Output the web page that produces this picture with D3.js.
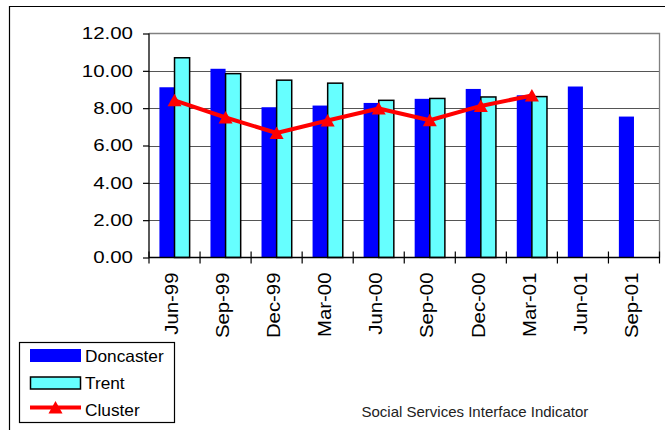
<!DOCTYPE html>
<html><head><meta charset="utf-8">
<script src="https://cdn.jsdelivr.net/npm/d3@7/dist/d3.min.js"></script>
<style>html,body{margin:0;padding:0;background:#fff;}svg{display:block;font-family:"Liberation Sans",Arial,sans-serif;}</style>
</head><body>
<svg id="c" width="665" height="430"></svg>
<script>
const categories = ["Jun-99","Sep-99","Dec-99","Mar-00","Jun-00","Sep-00","Dec-00","Mar-01","Jun-01","Sep-01"];
const doncaster = [9.12, 10.11, 8.05, 8.14, 8.28, 8.50, 9.03, 8.69, 9.16, 7.55];
const trent = [10.70, 9.85, 9.50, 9.34, 8.42, 8.52, 8.60, 8.62, null, null];
const cluster = [8.42, 7.50, 6.67, 7.34, 7.98, 7.35, 8.12, 8.68, null, null];
const yTicks = [0, 2, 4, 6, 8, 10, 12];
const seriesNames = ["Doncaster", "Trent", "Cluster"];
const caption = "Social Services Interface Indicator";

const svg = d3.select("#c");
const X0 = 149, X1 = 659.5, YB = 257.5, YT = 33.5;

const x = d3.scaleBand().domain(categories).range([X0, X1]).padding(0);
const xs = d3.scaleBand().domain(["D","T"]).range([0, x.bandwidth()]).paddingInner(0).paddingOuter(0.69);
const y = d3.scaleLinear().domain([0, 12]).range([YB, YT]);

// outer chart border (clipped at right/bottom)
svg.append("path").attr("d", "M9.5,431 V6.5 H666").attr("fill","none").attr("stroke","#000").attr("stroke-width",1.2);

// gridlines
svg.append("g").selectAll("line").data(yTicks.filter(d => d > 0 && d < 12)).join("line")
  .attr("x1", X0).attr("x2", X1).attr("y1", d => Math.round(y(d)) + 0.5).attr("y2", d => Math.round(y(d)) + 0.5)
  .attr("stroke", "#555").attr("stroke-width", 1);
// plot border top/right
svg.append("path").attr("d", `M${X0},${YT} H${X1} V${YB}`).attr("fill","none").attr("stroke","#808080").attr("stroke-width",1.3);

// bars
const g = svg.append("g");
g.selectAll("rect.d").data(categories).join("rect").attr("class","d")
  .attr("x", c => x(c) + xs("D")).attr("width", xs.bandwidth())
  .attr("y", (c,i) => y(doncaster[i])).attr("height", (c,i) => YB - y(doncaster[i]))
  .attr("fill", "#0000FF");
g.selectAll("rect.t").data(categories.filter((c,i) => trent[i] != null)).join("rect").attr("class","t")
  .attr("x", c => x(c) + xs("T")).attr("width", xs.bandwidth())
  .attr("y", (c) => y(trent[categories.indexOf(c)])).attr("height", c => YB - y(trent[categories.indexOf(c)]))
  .attr("fill", "#66FFFF").attr("stroke", "#000").attr("stroke-width", 1.5);

// axes
const yAxis = d3.axisLeft(y).tickValues(yTicks).tickSize(6).tickFormat(d3.format(".2f"));
const ya = svg.append("g").attr("transform", `translate(${X0},0)`).call(yAxis);
ya.select(".domain").attr("stroke","#000").attr("stroke-width",1.3).attr("d", `M0,${YT}V${YB}`);
ya.selectAll(".tick line").attr("stroke","#000").attr("stroke-width",1.2);
ya.selectAll(".tick text").remove();
svg.append("g").selectAll("text").data(yTicks).join("text")
  .attr("transform", d => `translate(133,${y(d)}) scale(1.28,1)`)
  .attr("text-anchor","end").attr("dy","0.36em")
  .attr("font-size","16px").attr("fill","#000").text(d3.format(".2f"));

const xAxis = d3.axisBottom(x).tickSize(0).tickFormat("");
const xa = svg.append("g").attr("transform", `translate(0,${YB})`).call(xAxis);
xa.select(".domain").attr("stroke","#000").attr("stroke-width",1.3).attr("d", `M${X0},0H${X1}`);
xa.selectAll(".tick").remove();
const bounds = categories.map(c => x(c)).concat([X1]);
xa.selectAll("line.tk").data(bounds).join("line").attr("class","tk")
  .attr("x1", d => d).attr("x2", d => d).attr("y1", -6).attr("y2", 6)
  .attr("stroke","#000").attr("stroke-width",1.2);

svg.append("g").selectAll("text").data(categories).join("text")
  .attr("transform", c => `translate(${x(c) + x.bandwidth()/2 + 3.7},272.5) rotate(-90) scale(1.1,1)`)
  .attr("text-anchor","end").attr("font-size","18.5px").attr("fill","#000").text(c => c);

// cluster line
const triPath = "M0,-6.5L7,6L-7,6Z";
const cx = c => x(c) + x.bandwidth()/2;
const cdata = categories.map((c,i) => ({c, v: cluster[i]})).filter(d => d.v != null);
svg.append("path").datum(cdata)
  .attr("d", d3.line().x(d => cx(d.c)).y(d => y(d.v)))
  .attr("fill","none").attr("stroke","#FF0000").attr("stroke-width",4).attr("stroke-linejoin","round");
svg.append("g").selectAll("path").data(cdata).join("path")
  .attr("transform", d => `translate(${cx(d.c)},${y(d.v)})`).attr("d", triPath).attr("fill","#FF0000");

// legend
const lg = svg.append("g");
lg.append("rect").attr("x",19.5).attr("y",342.5).attr("width",155).attr("height",80)
  .attr("fill","#fff").attr("stroke","#000").attr("stroke-width",1.2);
lg.append("rect").attr("x",30).attr("y",349).attr("width",51).attr("height",13).attr("fill","#0000FF");
lg.append("rect").attr("x",30.5).attr("y",377).attr("width",50).attr("height",12)
  .attr("fill","#66FFFF").attr("stroke","#000").attr("stroke-width",1.5);
lg.append("line").attr("x1",30).attr("x2",81).attr("y1",407.5).attr("y2",407.5).attr("stroke","#FF0000").attr("stroke-width",4);
lg.append("path").attr("transform","translate(55.5,407.5)").attr("d",triPath).attr("fill","#FF0000");
const lbase = [361.7, 389, 416];
lg.selectAll("text").data(seriesNames).join("text")
  .attr("transform", (d,i) => `translate(85,${lbase[i]}) scale(1.06,1)`)
  .attr("font-size","16.3px").attr("fill","#000").text(d => d);

// caption
svg.append("text").attr("x",361.5).attr("y",417.3).attr("font-size","15px").attr("fill","#222").text(caption);
</script>
</body></html>
